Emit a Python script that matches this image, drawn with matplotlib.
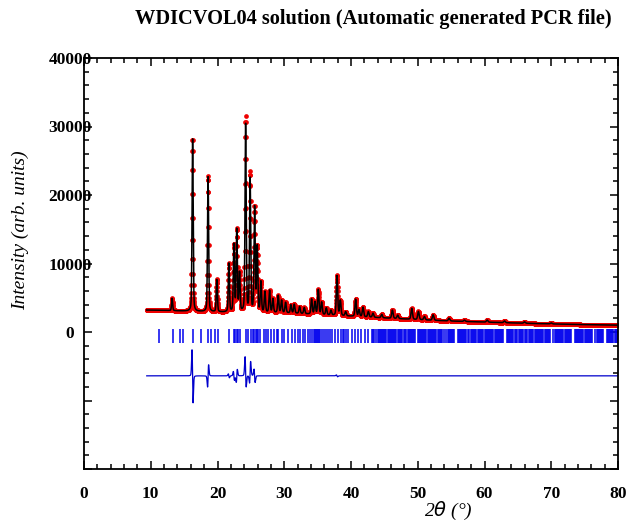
import numpy as np
import matplotlib
matplotlib.use("Agg")
import matplotlib.pyplot as plt
from matplotlib.ticker import MultipleLocator, FuncFormatter

# background points (2theta, counts)
bg_tth = [9.4, 12, 15, 20, 25, 30, 35, 40, 45, 50, 55, 60, 65, 70, 75, 80]
bg_cnt = [3200, 3150, 3050, 2900, 2850, 2800, 2550, 2300, 2050, 1800, 1600, 1450, 1300, 1180, 1080, 1000]

# reflections: position, observed height above background, calculated height, calc position misfit
peak_tth = [13.2, 16.25, 18.6, 19.9, 21.7, 22.45, 22.9, 23.3, 24.2, 24.9, 25.55, 25.95, 26.5, 27.1,
            27.8, 28.3, 29.1, 29.6, 30.2, 31.0, 31.5, 32.3, 33.0, 34.1, 34.6, 35.1, 35.6, 36.3, 37.0,
            37.9, 38.4, 39.2, 40.7, 41.2, 41.8, 42.6, 43.3, 44.6, 46.2, 47.0, 49.1, 50.1, 51.0, 52.3,
            54.7, 57.0, 60.4, 63.0, 66.0, 70.0]
peak_obs = [1800, 25200, 19800, 4700, 7100, 9800, 12000, 5600, 28400, 20300, 15200, 9500, 4400, 3000,
            3200, 2000, 2500, 1800, 1500, 1200, 1300, 1000, 900, 2200, 1800, 3600, 1800, 1000, 700,
            5800, 2200, 600, 2500, 1000, 1400, 800, 600, 500, 1200, 500, 1600, 1200, 500, 800,
            400, 200, 300, 250, 200, 150]
peak_calc = [1800, 25300, 19800, 4700, 7100, 9800, 12000, 5600, 27500, 19500, 15200, 9500, 4400, 3000,
             3200, 2000, 2500, 1800, 1500, 1200, 1300, 1000, 900, 2200, 1800, 3600, 1800, 1000, 700,
             5800, 2200, 600, 2500, 1000, 1400, 800, 600, 500, 1200, 500, 1600, 1200, 500, 800,
             400, 200, 300, 250, 200, 150]
peak_shift = [0, 0.022, -0.012, 0, 0.006, 0.01, -0.012, 0, 0.012, -0.012, 0.01, 0, 0, 0,
              0, 0, 0, 0, 0, 0, 0, 0, 0, 0, 0, 0, 0, 0, 0,
              0.004, 0, 0, 0, 0, 0, 0, 0, 0, 0, 0, 0, 0, 0, 0,
              0, 0, 0, 0, 0, 0]

# Bragg reflection positions (2theta)
bragg_tth = [11.3, 13.3, 14.4, 14.9, 16.3, 17.6, 18.6, 19.1, 19.6, 20.1, 21.7, 22.4, 22.6, 22.9,
             23.1, 23.4, 24.2, 24.6, 25.0, 25.3, 25.5, 25.7, 25.9, 26.1, 26.4, 26.9, 27.3, 27.6,
             28.0, 28.5, 28.9, 29.1, 29.6, 30.0, 30.6, 31.1, 31.6, 32.0, 32.4, 32.8, 33.1, 33.5,
             33.9, 34.2, 34.4, 34.55, 34.7, 34.9, 35.05, 35.2, 35.4, 35.6, 35.9, 36.2, 36.5, 36.9,
             37.2, 37.6, 38.1, 38.5, 38.8, 38.95, 39.2, 39.6, 40.1, 40.6, 41.1, 41.5, 42.1, 42.5,
             43.1, 43.3, 43.45, 43.8, 44.0, 44.15, 44.3, 44.5, 44.65, 44.8, 45.0, 45.15, 45.3,
             45.5, 45.65, 45.8, 46.0, 46.15, 46.3, 46.5, 46.65, 46.8, 47.0, 47.15, 47.3, 47.5,
             47.65, 48.0, 48.15, 48.3, 48.5, 48.65, 48.8, 49.0, 49.15, 49.3, 49.5, 49.65, 50.0,
             50.15, 50.3, 50.5, 50.65, 50.8, 51.0, 51.15, 51.3, 51.5, 51.65, 51.8, 52.0, 52.15,
             52.3, 52.5, 52.65, 52.8, 53.0, 53.15, 53.3, 53.5, 53.65, 54.0, 54.3, 54.5, 54.65,
             54.8, 55.0, 55.15, 55.3, 55.5, 56.0, 56.15, 56.3, 56.5, 56.65, 56.8, 57.0, 57.15,
             57.3, 57.5, 57.65, 58.0, 58.15, 58.3, 58.5, 58.65, 58.8, 59.0, 59.15, 59.3, 59.5,
             59.65, 59.8, 60.0, 60.15, 60.3, 60.5, 60.65, 60.8, 61.0, 61.15, 61.3, 61.5, 61.65,
             61.8, 62.0, 62.15, 62.3, 62.5, 62.65, 62.8, 63.3, 63.5, 63.65, 63.8, 64.0, 64.15,
             64.3, 64.5, 64.65, 64.8, 65.2, 65.35, 65.5, 65.65, 65.8, 66.0, 66.15, 66.3, 66.7,
             66.85, 67.0, 67.15, 67.3, 67.5, 67.65, 67.8, 68.0, 68.15, 68.3, 68.5, 68.65, 68.8,
             69.0, 69.15, 69.3, 69.5, 69.65, 69.8, 70.3, 70.5, 70.65, 70.8, 71.0, 71.15, 71.3,
             71.5, 71.65, 71.8, 72.0, 72.15, 72.3, 72.5, 72.65, 72.8, 73.0, 73.5, 73.65, 73.8,
             74.0, 74.15, 74.3, 74.5, 74.65, 74.8, 75.0, 75.15, 75.3, 75.5, 75.65, 75.8, 76.0,
             76.15, 76.5, 76.8, 77.0, 77.15, 77.3, 77.5, 77.65, 77.8, 78.3, 78.5, 78.65, 78.8,
             79.0, 79.15, 79.3, 79.5, 79.65, 79.8, 80.0]

diff_offset = -6400
bragg_top, bragg_bottom = 400, -1600


def profile(tth, pos, height):
    """pseudo-Voigt peak on the 2theta grid"""
    fwhm = 0.18 + 0.002 * (pos - 10)
    sig = fwhm / 2.3548
    g = np.exp(-0.5 * ((tth - pos) / sig) ** 2)
    lor = 1.0 / (1.0 + ((tth - pos) / (fwhm / 2)) ** 2)
    return height * (0.7 * g + 0.3 * lor)


tth = np.arange(9.4, 80.0001, 0.02)
bg = np.interp(tth, bg_tth, bg_cnt)
y_obs = bg.copy()
y_calc = bg.copy()
for p, ho, hc, dp in zip(peak_tth, peak_obs, peak_calc, peak_shift):
    y_obs += profile(tth, p, ho)
    y_calc += profile(tth, p + dp, hc)
y_diff = y_obs - y_calc + diff_offset

plt.rcParams['font.family'] = ['Liberation Serif', 'DejaVu Serif']

fig = plt.figure(figsize=(6.27, 5.21), dpi=100)
ax = fig.add_axes([84 / 627, 1 - 469 / 521, 534 / 627, 411 / 521])

ax.plot(tth, y_obs, 'o', color='#ee0000', ms=3.4, mew=0, zorder=2)
ax.plot(tth, y_calc, '-', color='black', lw=1.1, zorder=3)
ax.vlines(bragg_tth, bragg_bottom, bragg_top, color='#0000ee', lw=1.1, zorder=2)
ax.plot(tth, y_diff, '-', color='#0000cc', lw=0.9, zorder=2)

ax.set_xlim(0, 80)
ax.set_ylim(-20000, 40000)
ax.xaxis.set_major_locator(MultipleLocator(10))
ax.xaxis.set_minor_locator(MultipleLocator(2))
ax.yaxis.set_major_locator(MultipleLocator(10000))
ax.yaxis.set_minor_locator(MultipleLocator(2000))
ax.yaxis.set_major_formatter(FuncFormatter(lambda v, _: f"{int(v)}" if v >= 0 else ""))

ax.tick_params(which='both', direction='in', top=True, right=True, width=1.1)
ax.tick_params(which='major', length=6)
ax.tick_params(which='minor', length=3.5)
ax.tick_params(axis='x', which='major', pad=12, labelsize=12.5)
ax.tick_params(axis='y', which='major', pad=10, labelsize=12.5)
for lab in ax.get_xticklabels() + ax.get_yticklabels():
    lab.set_fontweight('bold')
for lab in ax.get_yticklabels():
    lab.set_horizontalalignment('center')
for s in ax.spines.values():
    s.set_linewidth(1.3)

fig.text(373 / 627, 1 - 19 / 521, 'WDICVOL04 solution (Automatic generated PCR file)',
         ha='center', va='center', fontsize=14.7, fontweight='bold')
fig.text(20 / 627, 1 - 230 / 521, 'Intensity (arb. units)', rotation=90,
         ha='center', va='center', fontsize=14, style='italic')
fig.text(448 / 627, 1 - 511 / 521, '2$\\theta$ (°)', ha='center', va='center',
         fontsize=14, style='italic')

fig.savefig('out.png', dpi=100)
